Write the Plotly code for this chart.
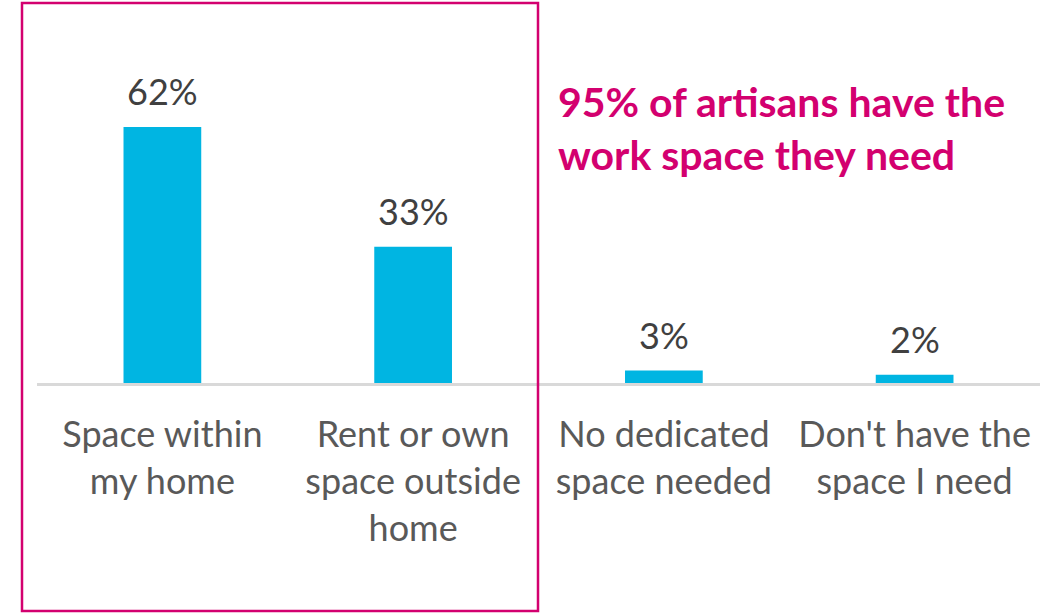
import plotly.graph_objects as go

# Where artisans do their work
categories = [
    "Space within<br>my home",
    "Rent or own<br>space outside<br>home",
    "No dedicated<br>space needed",
    "Don't have the<br>space I need",
]
shares = [62, 33, 3, 2]
share_labels = ["62%", "33%", "3%", "2%"]
headline = "95% of artisans have the<br>work space they need"

BAR_COLOR = "#00B5E2"
ACCENT = "#D3006F"
FONT = "Lato, 'Open Sans', sans-serif"

W, H = 1059, 613
M_L, M_R, M_T, M_B = 37, 19, 3, 230
plot_w = W - M_L - M_R
plot_h = H - M_T - M_B
base_px = H - M_B  # pixel row of the category axis

fig = go.Figure(
    go.Bar(
        x=list(range(len(categories))),
        y=shares,
        marker=dict(color=BAR_COLOR, line=dict(width=0)),
        width=0.31,
        hoverinfo="skip",
    )
)

# value labels floating above each bar
for i, (v, lab) in enumerate(zip(shares, share_labels)):
    fig.add_annotation(
        x=i, y=v, text=lab, showarrow=False,
        xref="x", yref="y", yanchor="bottom", yshift=12,
        font=dict(family=FONT, size=36, color="#404040"),
    )

# headline to the right of the highlighted group
fig.add_annotation(
    x=(556 - M_L) / plot_w, y=(base_px - 128) / plot_h,
    xref="paper", yref="paper", xanchor="left", yanchor="middle",
    text="<b>" + headline + "</b>", align="left", showarrow=False,
    font=dict(family=FONT, size=41, color=ACCENT),
)

# frame around the two options that provide dedicated space
fig.add_shape(
    type="rect", xref="paper", yref="paper",
    x0=(22 - M_L) / plot_w, x1=(538 - M_L) / plot_w,
    y0=(base_px - 611) / plot_h, y1=(base_px - 3) / plot_h,
    line=dict(color=ACCENT, width=2.5), fillcolor="rgba(0,0,0,0)",
    layer="above",
)

fig.update_layout(
    width=W, height=H,
    margin=dict(l=M_L, r=M_R, t=M_T, b=M_B, pad=0),
    paper_bgcolor="white", plot_bgcolor="white",
    showlegend=False,
    xaxis=dict(
        tickmode="array", tickvals=list(range(len(categories))), ticktext=categories,
        range=[-0.5, len(categories) - 0.5],
        showline=True, linecolor="#D9D9D9", linewidth=3,
        showgrid=False, zeroline=False, ticks="",
        tickfont=dict(family=FONT, size=36, color="#595959"),
        ticklabelstandoff=18,
    ),
    yaxis=dict(range=[0, 92], visible=False, fixedrange=True),
)

fig.write_html("out.html")
